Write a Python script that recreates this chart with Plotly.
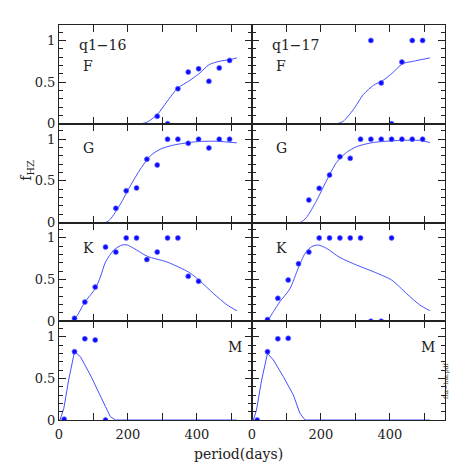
import plotly.graph_objects as go
from plotly.subplots import make_subplots

# ---------------- data (bin centres in days, fraction f_HZ) ----------------
# q1-16
f16_x = [285, 315, 345, 375, 405, 435, 465, 495]
f16_y = [0.09, 0.0, 0.42, 0.62, 0.66, 0.51, 0.67, 0.76]
g16_x = [165, 195, 225, 255, 285, 315, 345, 375, 405, 435, 465, 495]
g16_y = [0.17, 0.38, 0.415, 0.76, 0.69, 1.0, 1.0, 0.95, 1.0, 0.895, 1.0, 1.0]
k16_x = [45, 75, 105, 135, 165, 195, 225, 255, 285, 315, 345, 375, 405]
k16_y = [0.035, 0.23, 0.41, 0.89, 0.83, 1.0, 1.0, 0.74, 0.83, 1.0, 1.0, 0.54, 0.48]
m16_x = [15, 45, 75, 105, 135]
m16_y = [0.01, 0.82, 0.975, 0.96, 0.0]

# q1-17
f17_x = [345, 375, 405, 435, 465, 495]
f17_y = [1.0, 0.49, 0.0, 0.74, 1.0, 1.0]
g17_x = [165, 195, 225, 255, 285, 315, 345, 375, 405, 435, 465, 495]
g17_y = [0.27, 0.41, 0.57, 0.79, 0.77, 1.0, 1.0, 1.0, 1.0, 1.0, 1.0, 1.0]
k17_x = [45, 75, 105, 135, 165, 195, 225, 255, 285, 315, 345, 375, 405]
k17_y = [0.02, 0.275, 0.495, 0.69, 0.83, 1.0, 1.0, 1.0, 1.0, 1.0, 0.0, 0.0, 1.0]
m17_x = [15, 45, 75, 105]
m17_y = [0.0, 0.82, 0.975, 0.98]

# model curves
cf16_x = [0, 236, 256, 285, 314, 345, 376, 406, 436, 466, 496, 516]
cf16_y = [0, 0, 0.02, 0.11, 0.27, 0.43, 0.51, 0.60, 0.71, 0.75, 0.77, 0.79]
cg16_x = [0, 135, 149, 178, 207, 236, 265, 294, 333, 400, 458, 516]
cg16_y = [0, 0, 0.04, 0.22, 0.44, 0.64, 0.80, 0.88, 0.93, 0.97, 0.975, 0.955]
ck16_x = [0, 38, 53, 75, 105, 120, 135, 159, 183, 198, 217, 256, 314, 376, 406, 449, 488, 516]
ck16_y = [0, 0, 0.07, 0.23, 0.39, 0.53, 0.71, 0.855, 0.915, 0.915, 0.875, 0.78, 0.71, 0.59, 0.495, 0.33, 0.195, 0.127]
cm16_x = [0, 3, 14, 28, 45, 62, 91, 120, 135, 149, 164, 516]
cm16_y = [0, 0, 0.14, 0.48, 0.82, 0.76, 0.54, 0.30, 0.16, 0.04, 0, 0]

cf17_x = [0, 245, 265, 294, 323, 352, 380, 405, 437, 468, 516]
cf17_y = [0, 0, 0.03, 0.17, 0.35, 0.46, 0.52, 0.60, 0.72, 0.75, 0.79]
cg17_x = [0, 139, 158, 187, 216, 245, 274, 303, 352, 429, 487, 516]
cg17_y = [0, 0, 0.06, 0.26, 0.50, 0.72, 0.84, 0.91, 0.96, 0.985, 0.985, 0.96]
ck17_x = [0, 42, 62, 81, 110, 134, 154, 173, 192, 216, 255, 303, 352, 405, 449, 487, 516]
ck17_y = [0, 0, 0.115, 0.235, 0.39, 0.635, 0.815, 0.895, 0.915, 0.875, 0.765, 0.675, 0.595, 0.495, 0.33, 0.195, 0.127]
cm17_x = [0, 4, 13, 28, 45, 62, 91, 120, 139, 154, 516]
cm17_y = [0, 0, 0.12, 0.48, 0.80, 0.72, 0.52, 0.30, 0.08, 0, 0]

panels = [
    # row, col, points x, points y, curve x, curve y, label
    (1, 1, f16_x, f16_y, cf16_x, cf16_y, "F"),
    (1, 2, f17_x, f17_y, cf17_x, cf17_y, "F"),
    (2, 1, g16_x, g16_y, cg16_x, cg16_y, "G"),
    (2, 2, g17_x, g17_y, cg17_x, cg17_y, "G"),
    (3, 1, k16_x, k16_y, ck16_x, ck16_y, "K"),
    (3, 2, k17_x, k17_y, ck17_x, ck17_y, "K"),
    (4, 1, m16_x, m16_y, cm16_x, cm16_y, "M"),
    (4, 2, m17_x, m17_y, cm17_x, cm17_y, "M"),
]
label_y = {"F": 0.69, "G": 0.89, "K": 0.875}

FONT = "DejaVu Serif"
INK = "#222222"

fig = make_subplots(rows=4, cols=2, horizontal_spacing=0, vertical_spacing=0)

for row, col, px_, py_, cx, cy, lab in panels:
    fig.add_trace(go.Scatter(x=cx, y=cy, mode="lines",
                             line=dict(color="rgb(70,80,255)", width=1,
                                       shape="linear" if lab == "M" else "spline",
                                       smoothing=0.7)),
                  row=row, col=col)
    fig.add_trace(go.Scatter(x=px_, y=py_, mode="markers",
                  marker=dict(color="#0a0aff", size=5,
                              line=dict(color="rgba(110,110,255,0.7)", width=1))),
                  row=row, col=col)
    n = (row - 1) * 2 + col
    xr = "x" if n == 1 else "x%d" % n
    yr = "y" if n == 1 else "y%d" % n
    if lab == "M":
        fig.add_annotation(x=510, y=0.88, xref=xr, yref=yr, text=lab,
                           showarrow=False, xanchor="center", yanchor="middle",
                           font=dict(family=FONT, size=14, color=INK))
    else:
        fig.add_annotation(x=85, y=label_y[lab], xref=xr, yref=yr, text=lab,
                           showarrow=False, xanchor="center", yanchor="middle",
                           font=dict(family=FONT, size=14, color=INK))
    if row == 1:
        fig.add_annotation(x=52, y=0.95, xref=xr, yref=yr,
                           text="q1\u221216" if col == 1 else "q1\u221217",
                           showarrow=False, xanchor="left", yanchor="middle",
                           font=dict(family=FONT, size=14, color=INK))

    fig.update_xaxes(range=[0, 560], tick0=0, dtick=200,
                     ticks="inside", ticklen=7, tickcolor=INK,
                     minor=dict(dtick=100, ticks="inside", ticklen=7, tickcolor=INK),
                     showline=True, linecolor=INK, linewidth=1, mirror="ticks",
                     showgrid=False, zeroline=False,
                     showticklabels=(row == 4), ticklabelstandoff=2,
                     tickfont=dict(family=FONT, size=13, color=INK),
                     row=row, col=col)
    fig.update_yaxes(range=[0, 1.185], tickvals=[0, 0.5, 1],
                     ticks="inside", ticklen=7, tickcolor=INK,
                     minor=dict(dtick=0.1, ticks="inside", ticklen=4, tickcolor=INK),
                     showline=True, linecolor=INK, linewidth=1, mirror="ticks",
                     showgrid=False, zeroline=False,
                     showticklabels=(col == 1),
                     tickfont=dict(family=FONT, size=13, color=INK),
                     row=row, col=col)

fig.add_annotation(x=-0.112, y=0.633, xref="paper", yref="paper",
                   text="f<sub>HZ</sub>", textangle=-90, showarrow=False,
                   font=dict(family=FONT, size=14, color=INK))
fig.add_annotation(x=0.464, y=-0.062, xref="paper", yref="paper",
                   text="period(days)", showarrow=False, yanchor="top",
                   font=dict(family=FONT, size=14, color=INK))
fig.add_annotation(x=1.018, y=0.048, xref="paper", yref="paper",
                   text="fhz\u2212hm.pdf", textangle=-90, showarrow=False,
                   font=dict(family=FONT, size=6, color=INK))

# page body adds 8px offset; margins compensate so panels sit where the reference has them
fig.update_layout(width=471, height=471, showlegend=False,
                  margin=dict(l=50.5, r=34, t=17, b=59),
                  paper_bgcolor="white", plot_bgcolor="white")

fig.write_html("out.html")
